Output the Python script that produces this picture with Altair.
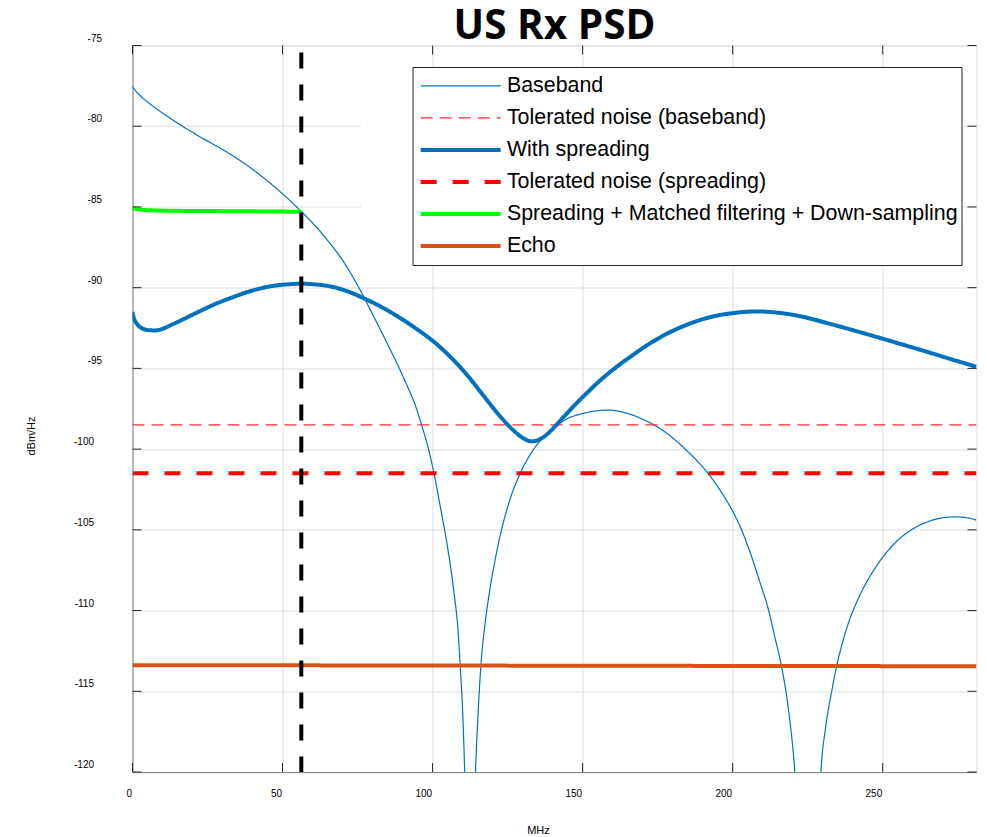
import altair as alt
import pandas as pd

# ---------------- data ----------------
X_MAX = 281.25
CUTOFF_MHZ = 56.25

series_names = [
    "Baseband",
    "Tolerated noise (baseband)",
    "With spreading",
    "Tolerated noise (spreading)",
    "Spreading + Matched filtering + Down-sampling",
    "Echo",
]

baseband_mhz = [0, 0.3, 1, 2.5, 5, 7.5, 10, 15.8, 20, 25, 30, 35, 40, 45, 50,
                56.25, 60, 65, 70, 75, 80, 85, 90, 95, 96.4, 98.5, 100.3, 102.5,
                105, 107, 108.5, 109.2, 110, 110.7, 111.5, 112.5,
                113.5, 114.3, 115, 116.1, 117.5, 119, 121, 123.1, 126, 129.2, 133,
                137, 141, 145, 150, 155, 158, 162, 166, 170, 174.7, 180, 185, 190,
                192, 196, 200, 202.5, 206, 209, 212, 214, 216.2, 218.5, 220.7, 222,
                225, 228, 229.4, 231, 233, 234.7, 238, 242, 246, 250, 255, 260, 265,
                270, 274, 278, 281.25]
baseband_dbm = [-77.5, -77.62, -77.8, -78.1, -78.5, -78.85, -79.18, -79.9, -80.38,
                -80.92, -81.44, -82.02, -82.67, -83.39, -84.19, -85.28, -85.99,
                -87.07, -88.3, -89.85, -91.65, -93.5, -95.45, -97.7, -98.54, -99.9,
                -101.35, -103.5, -106.1, -108.7, -111.3, -113.4, -116.2, -120, -126,
                -150, -126, -120, -117.0, -113.4, -110.8, -108.8, -106.7,
                -104.9, -103.0, -101.5, -100.2, -99.25, -98.6, -98.1, -97.8, -97.62,
                -97.58, -97.65, -97.85, -98.15, -98.6, -99.3, -100.15, -101.1, -101.55,
                -102.6, -103.85, -104.8, -106.5, -108.2, -110.0, -111.6, -113.4, -116.0,
                -120, -124, -150, -126, -120, -117.2, -115.0, -113.4, -111.1, -109.2,
                -107.8, -106.7, -105.65, -104.95, -104.5, -104.25, -104.2, -104.25,
                -104.4]

spreading_mhz = [0, 0.5, 1.5, 3, 5, 7.5, 10, 13, 17, 22.5, 28, 33.6, 39, 44.7, 50,
                 56.2, 61, 66.9, 72, 76.9, 83, 89.2, 95, 100.3, 106, 111.4, 117, 122.5,
                 127, 130, 133, 135, 137, 139.2, 141.5, 144.7, 148, 151, 155.8, 161,
                 166.9, 172, 178.1, 184, 189.2, 195, 200.3, 205, 208.1, 212, 216, 220,
                 224, 228, 233.6, 240, 250.3, 258, 267, 274, 281.25]
spreading_dbm = [-91.5, -91.9, -92.25, -92.5, -92.62, -92.65, -92.55, -92.3, -91.95,
                 -91.45, -90.98, -90.58, -90.23, -89.96, -89.82, -89.76, -89.8, -89.96,
                 -90.25, -90.64, -91.2, -91.88, -92.6, -93.33, -94.3, -95.39, -96.7,
                 -97.97, -98.85, -99.3, -99.52, -99.45, -99.25, -98.9, -98.45, -97.8,
                 -97.15, -96.6, -95.75, -94.95, -94.15, -93.5, -92.85, -92.35, -92.0,
                 -91.72, -91.57, -91.49, -91.47, -91.5, -91.57, -91.68, -91.83, -92.02,
                 -92.3, -92.63, -93.18, -93.6, -94.1, -94.5, -94.9]

tol_baseband_dbm = -98.5
tol_spreading_dbm = -101.5

mf_mhz = [0, 2, 5, 15, 30, 45, 56.25]
mf_dbm = [-85.1, -85.15, -85.2, -85.24, -85.26, -85.28, -85.3]

echo_mhz = [0, X_MAX]
echo_dbm = [-113.38, -113.45]

x_ticks = [0, 50, 100, 150, 200, 250]
y_ticks = [-75, -80, -85, -90, -95, -100, -105, -110, -115, -120]

# partial grid lines (hidden behind the legend area in the reference)
partial_grid_dbm = [-80, -80, -85, -85]
partial_grid_from = [0, 274.2, 0, 274.2]
partial_grid_to = [76.2, X_MAX, 76.2, X_MAX]

# ---------------- styles ----------------
series_colors = ["#0072BD", "#FF2A2A", "#0072BD", "#FF0000", "#00FF00", "#D95319"]
series_dash = [[1, 0], [12, 7], [1, 0], [16, 16], [1, 0], [1, 0]]
series_width = [1.2, 1.2, 4, 4, 4, 4]

# ---------------- tables ----------------
rows = []
def add(name, xs, ys):
    w = series_width[series_names.index(name)]
    for x, y in zip(xs, ys):
        rows.append({"mhz": x, "dbm": y, "series": name, "lw": w})

add(series_names[0], baseband_mhz, baseband_dbm)
add(series_names[1], [0, X_MAX], [tol_baseband_dbm, tol_baseband_dbm])
add(series_names[2], spreading_mhz, spreading_dbm)
add(series_names[3], [0, X_MAX], [tol_spreading_dbm, tol_spreading_dbm])
add(series_names[4], mf_mhz, mf_dbm)
add(series_names[5], echo_mhz, echo_dbm)
lines_df = pd.DataFrame(rows)

cutoff_df = pd.DataFrame({"mhz": [CUTOFF_MHZ], "dbm": [-75], "dbm2": [-120]})
grid_df = pd.DataFrame({"dbm": partial_grid_dbm, "mhz": partial_grid_from,
                        "mhz2": partial_grid_to})
xt_df = pd.DataFrame({"mhz": x_ticks})
yt_df = pd.DataFrame({"dbm": y_ticks})

W, H = 844, 726.5
TICK = 9
AX = "#262626"
GRID = "#dedede"

x_scale = alt.Scale(domain=[0, X_MAX], nice=False, zero=False)
y_scale = alt.Scale(domain=[-120, -75], nice=False, zero=False)

x_axis = alt.Axis(values=x_ticks, title="MHz", ticks=False, tickSize=0,
                  labelExpr="'' + datum.value",
                  labelAlign="right", labelBaseline="middle", labelPadding=21,
                  labelOffset=-1, titleX=405.5, titleY=58, titleBaseline="middle",
                  titleAlign="center", titleFontWeight="normal", grid=True)
y_axis = alt.Axis(values=y_ticks, title="dBm/Hz", ticks=False, tickSize=0,
                  labelExpr="'' + datum.value",
                  labelAlign="right", labelBaseline="middle",
                  labelPadding={"condition": {"test": "datum.value <= -100", "value": 39},
                                "value": 31},
                  labelOffset=-7.5, titleX=-101.5, titleY=390, titleBaseline="middle",
                  titleAlign="center", titleAngle=270, titleFontWeight="normal", grid=True,
                  gridOpacity={"condition": {"test": "datum.value == -80 || datum.value == -85",
                                             "value": 0}, "value": 1})

X = alt.X("mhz:Q", scale=x_scale, axis=x_axis)
Y = alt.Y("dbm:Q", scale=y_scale, axis=y_axis)

w_expr = " : ".join(
    f"datum.value === '{n}' ? {w}" for n, w in zip(series_names[:-1], series_width[:-1])
) + f" : {series_width[-1]}"

leg = alt.Legend(
    orient="none", legendX=280, legendY=21.5, title=None, symbolType="stroke",
    symbolSize=6400, symbolOffset=34.5, labelOffset=35.5, labelFontSize=21.4,
    labelFont="Liberation Sans", labelColor="black", clipHeight=31.8,
    rowPadding=0, padding=3, strokeColor=AX, fillColor="white", labelLimit=800,
    symbolStrokeWidth=alt.ExprRef(w_expr),
)

grid_layer = alt.Chart(grid_df).mark_rule(color=GRID, strokeWidth=1).encode(
    x=X, x2="mhz2:Q", y=Y)

lines = alt.Chart(lines_df).mark_line(clip=True, interpolate="monotone").encode(
    x=X, y=Y,
    color=alt.Color("series:N", scale=alt.Scale(domain=series_names, range=series_colors),
                    legend=leg, sort=series_names),
    strokeDash=alt.StrokeDash("series:N", scale=alt.Scale(domain=series_names, range=series_dash),
                              legend=leg, sort=series_names),
    strokeWidth=alt.StrokeWidth("lw:Q", scale=None),
)

cutoff = alt.Chart(cutoff_df).mark_rule(color="black", strokeWidth=4,
                                        strokeDash=[16, 16], strokeDashOffset=25).encode(
    x=X, y=Y, y2="dbm2:Q")

tick_b = alt.Chart(xt_df).mark_rule(color=AX).encode(x=X, y=alt.value(H), y2=alt.value(H - TICK))
tick_t = alt.Chart(xt_df).mark_rule(color=AX).encode(x=X, y=alt.value(0), y2=alt.value(TICK))
tick_l = alt.Chart(yt_df).mark_rule(color=AX).encode(y=Y, x=alt.value(0), x2=alt.value(TICK))
tick_r = alt.Chart(yt_df).mark_rule(color=AX).encode(y=Y, x=alt.value(W), x2=alt.value(W - TICK))

chart = alt.layer(grid_layer, lines, cutoff, tick_b, tick_t, tick_l, tick_r).properties(
    width=W, height=H,
    title=alt.Title("US Rx PSD", font="Open Sans", fontSize=40.5, fontWeight="bold",
                    color="black", anchor="middle", baseline="alphabetic", offset=0, dy=46.3),
    autosize=alt.AutoSizeParams(type="none"),
    padding={"left": 132.5, "top": 45.5, "right": 10, "bottom": 65},
).configure_view(stroke=AX, strokeWidth=1).configure_axis(
    labelFont="Liberation Sans", labelFontSize=13, labelColor=AX,
    titleFont="Liberation Sans", titleFontSize=14.3, titleColor=AX, titleFontWeight="normal",
    domainColor=AX, domainWidth=1, gridColor=GRID, gridWidth=1,
).configure(background="white")

chart.save("out.html", embed_options={"renderer": "svg", "actions": False})
